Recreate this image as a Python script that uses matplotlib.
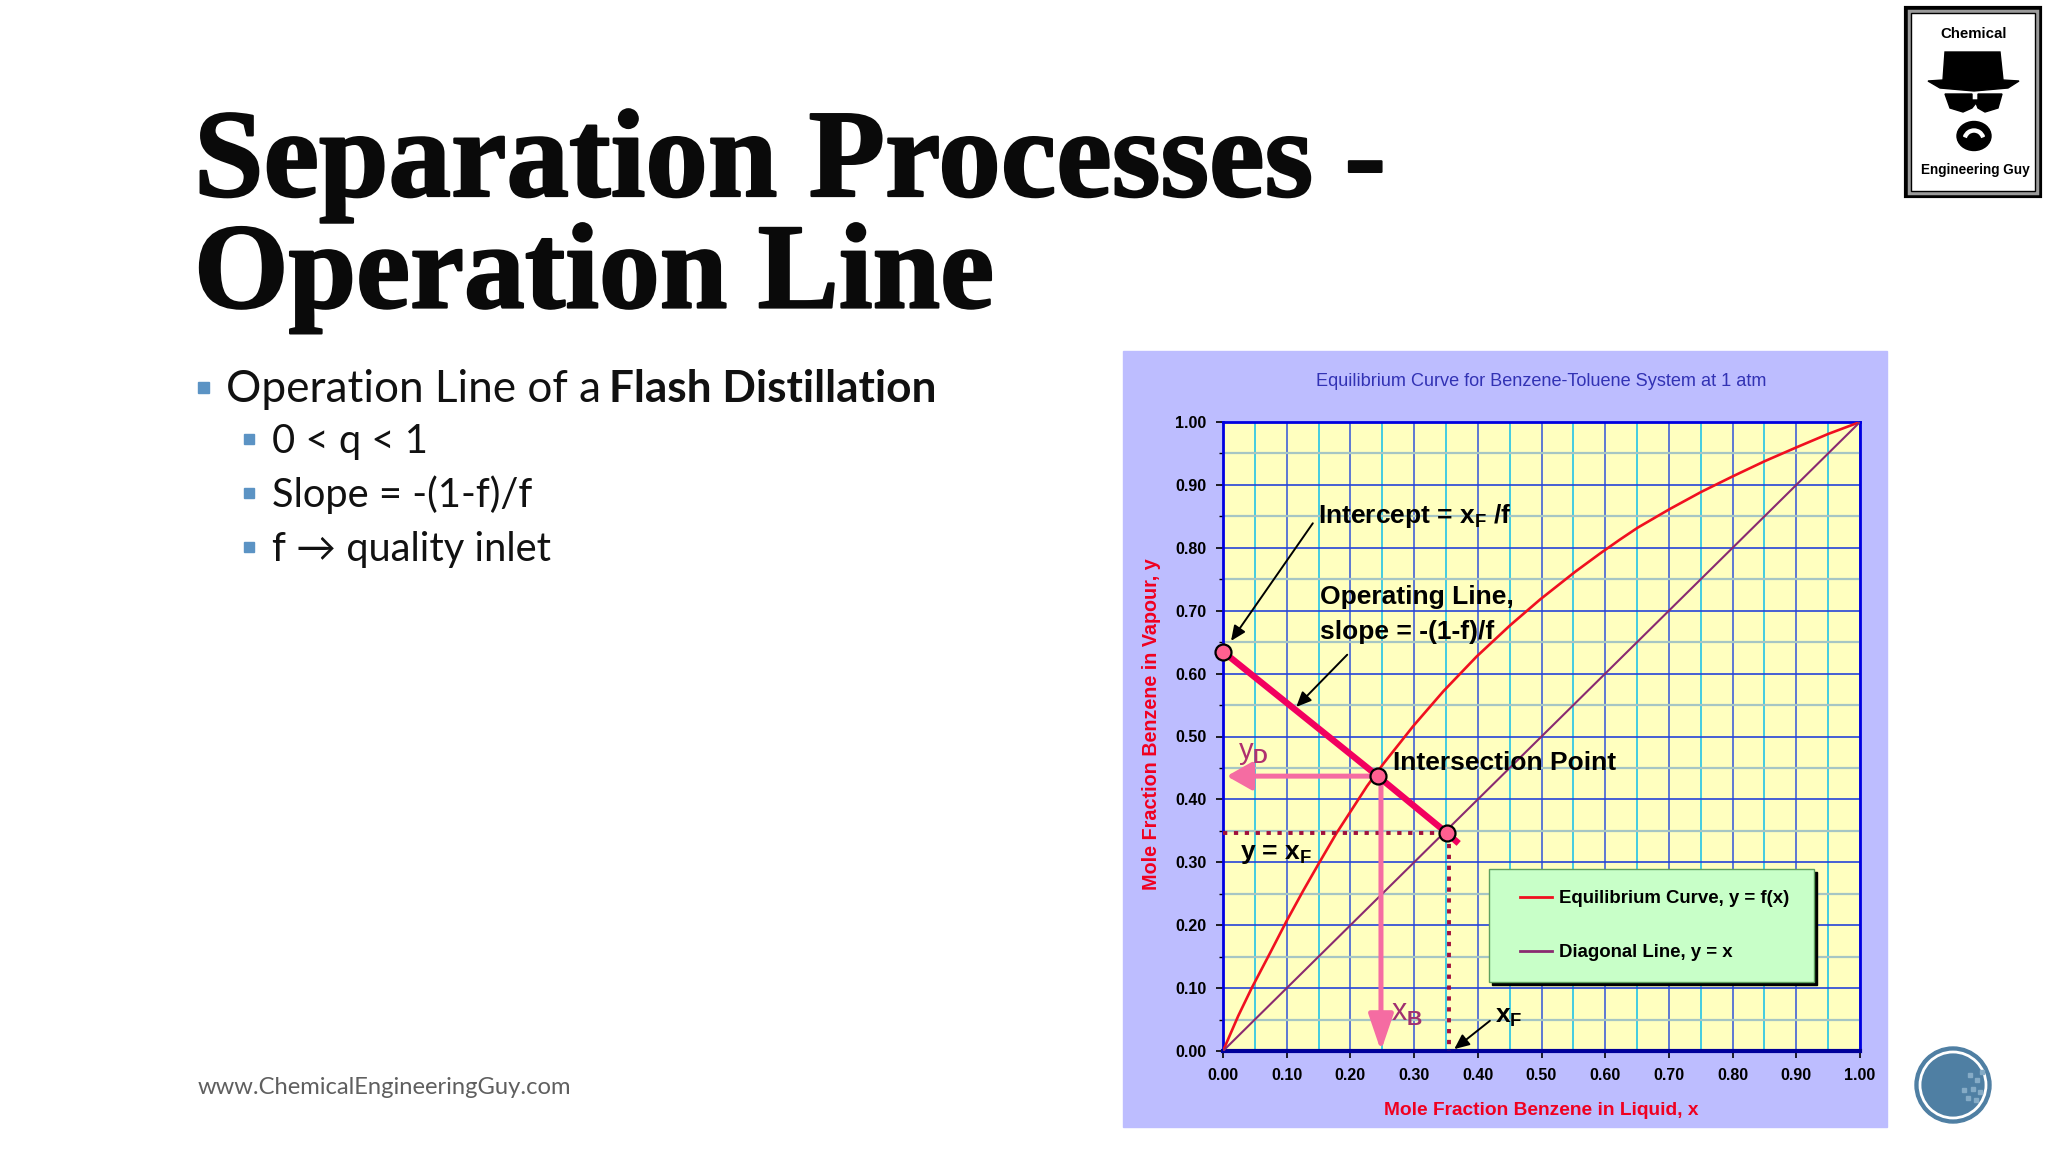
"""
plot.py - slide with the benzene-toluene equilibrium chart, saved to out.png
"""
import matplotlib
matplotlib.use("Agg")
import matplotlib.pyplot as plt
import matplotlib.patheffects as pe
from matplotlib.legend_handler import HandlerLine2D
from matplotlib.lines import Line2D
from matplotlib.patches import Rectangle, Circle, Polygon, Ellipse, Wedge

plt.rcParams["font.family"] = ["Liberation Sans", "DejaVu Sans"]
plt.rcParams["mathtext.fontset"] = "custom"
plt.rcParams["mathtext.rm"] = "Liberation Sans:bold"
plt.rcParams["mathtext.default"] = "rm"

W, H = 2048, 1152

# chart data
eq_x = [0.00, 0.024, 0.045, 0.074, 0.100, 0.126, 0.152, 0.178, 0.226, 0.252, 0.299, 0.346, 0.398,
        0.451, 0.498, 0.553, 0.592, 0.623, 0.651, 0.702, 0.751, 0.801, 0.851, 0.901, 0.950, 1.00]
eq_y = [0.00, 0.056, 0.100, 0.156, 0.207, 0.255, 0.301, 0.346, 0.421, 0.457, 0.517, 0.572, 0.627,
        0.677, 0.718, 0.762, 0.791, 0.813, 0.832, 0.862, 0.889, 0.914, 0.938, 0.960, 0.981, 1.00]
diag_x = [0.0, 1.0]
diag_y = [0.0, 1.0]
op_x = [0.00, 0.243, 0.351, 0.37]
op_y = [0.635, 0.437, 0.347, 0.33]
marker_x = [0.00, 0.243, 0.351]
marker_y = [0.635, 0.437, 0.347]
x_feed = 0.355
y_feed = 0.347
x_bottom = 0.248
major_ticks = [0.0, 0.1, 0.2, 0.3, 0.4, 0.5, 0.6, 0.7, 0.8, 0.9, 1.0]
minor_ticks = [0.05, 0.15, 0.25, 0.35, 0.45, 0.55, 0.65, 0.75, 0.85, 0.95]

title_lines = ["Separation Processes -", "Operation Line"]
sub_bullets = ["0 < q < 1", "Slope = -(1-f)/f", "f \u2192 quality inlet"]

BULLET = "#5B93C4"
LATO = ["Lato", "DejaVu Sans"]


def draw_slide(bg):
    # title and bullets
    heavy = [pe.withStroke(linewidth=1.6, foreground="#0A0A0A")]
    for label, yy, size in zip(title_lines, [166, 278], [90, 87.5]):
        bg.text(194, yy, label, family="Liberation Serif", fontweight="bold", fontsize=size,
                va="center", ha="left", color="#0A0A0A", path_effects=heavy)

    bg.add_patch(Rectangle((198, 382), 11, 11, color=BULLET))
    bg.text(226, 389, "Operation Line of a", family=LATO, fontsize=31.8, va="center", color="#111111")
    bg.text(609, 389, "Flash Distillation", family=LATO, fontweight="bold", fontsize=31.8,
            va="center", color="#111111")
    for label, yy in zip(sub_bullets, [441, 495, 549]):
        bg.add_patch(Rectangle((244, yy - 7), 10, 10, color=BULLET))
        bg.text(272, yy, label, family=LATO, fontsize=28.7, va="center", color="#111111")

    bg.text(198, 1088, "www.ChemicalEngineeringGuy.com", family=LATO, fontsize=17.1,
            va="center", color="#5F5F5F")

    # chart panel
    bg.add_patch(Rectangle((1123, 351), 764, 776, color="#BDBDFF", zorder=1))

    # logo top right
    bg.add_patch(Rectangle((1906, 8), 134, 188, fc="white", ec="black", lw=3))
    bg.add_patch(Rectangle((1909, 11), 128, 182, fc="none", ec="#9A9A9A", lw=2.5))
    bg.add_patch(Rectangle((1911, 13), 124, 178, fc="none", ec="black", lw=1))
    bg.text(1974, 34, "Chemical", fontweight="bold", fontsize=10.8,
            ha="center", va="center", color="black")
    bg.text(1975, 170, "Engineering Guy", fontweight="bold", fontsize=9.8,
            ha="center", va="center", color="black")
    bg.add_patch(Polygon([(1945, 52), (2000, 52), (2003, 80), (2019, 81), (2008, 88), (1974, 91),
                          (1940, 88), (1928, 81), (1943, 80)], color="black"))
    bg.add_patch(Polygon([(1945, 94), (1972, 94), (1972, 100), (1978, 100), (1978, 94), (2002, 94),
                          (1998, 108), (1985, 112), (1978, 108), (1976, 103), (1972, 108),
                          (1963, 112), (1950, 108)], color="black"))
    bg.add_patch(Ellipse((1974, 136), 34, 29, color="black"))
    bg.add_patch(Wedge((1974, 140), 11, 200, 340, width=3, color="white"))

    # round badge bottom right
    bg.add_patch(Circle((1953, 1085), 38, color="#4F7FA3"))
    bg.add_patch(Circle((1953, 1085), 33, fc="none", ec="white", lw=2))
    for sx, sy in [(1968, 1073), (1975, 1078), (1971, 1087), (1978, 1090), (1966, 1096),
                   (1974, 1098), (1962, 1088), (1980, 1070)]:
        bg.add_patch(Rectangle((sx, sy), 4, 4, color="#85ABC6"))


def draw_chart(ax):
    ax.set_facecolor("#FFFFBF")
    ax.set_xlim(0, 1)
    ax.set_ylim(0, 1)

    ax.set_xticks(major_ticks)
    ax.set_yticks(major_ticks)
    ax.set_xticks(minor_ticks, minor=True)
    ax.set_yticks(minor_ticks, minor=True)
    ax.set_xticklabels([f"{t:.2f}" for t in major_ticks])
    ax.set_yticklabels([f"{t:.2f}" for t in major_ticks])

    ax.set_axisbelow(True)
    ax.grid(True, which="major", axis="x", color="#3A5AD8", lw=1.15)
    ax.grid(True, which="major", axis="y", color="#2644D8", lw=1.2)
    ax.grid(True, which="minor", axis="x", color="#2CC6E6", lw=1.25)
    ax.grid(True, which="minor", axis="y", color="#A6C6C4", lw=1.6)
    ax.tick_params(which="major", length=5, width=1.2, pad=7, labelsize=11.5, color="black")
    ax.tick_params(which="minor", axis="y", length=3, width=1, color="black")
    ax.tick_params(which="minor", axis="x", length=0)
    for tick in ax.get_xticklabels() + ax.get_yticklabels():
        tick.set_fontweight("bold")
    for side in ["top", "left", "right"]:
        ax.spines[side].set_color("#0000E0")
        ax.spines[side].set_linewidth(2)
    ax.spines["bottom"].set_color("#00009A")
    ax.spines["bottom"].set_linewidth(3)

    ax.set_xlabel("Mole Fraction Benzene in Liquid, x", color="#F00020", fontweight="bold",
                  fontsize=13.8, labelpad=14)
    ax.set_ylabel("Mole Fraction Benzene in Vapour, y", color="#F00020", fontweight="bold",
                  fontsize=14.2, labelpad=10, y=0.52)
    ax.set_title("Equilibrium Curve for Benzene-Toluene System at 1 atm", color="#3232B4",
                 fontsize=13.1, pad=26, x=0.5)

    ax.plot(eq_x, eq_y, color="#F01020", lw=1.9, zorder=3)
    ax.plot(diag_x, diag_y, color="#8A2A70", lw=1.5, zorder=3)

    # feed dotted lines
    ax.plot([0, x_feed], [y_feed, y_feed], color="#A0103C", lw=2.8, ls=(0, (1.1, 1.7)), zorder=4)
    ax.plot([x_feed, x_feed], [y_feed, 0], color="#A0103C", lw=2.8, ls=(0, (1.1, 1.7)), zorder=4)

    # pink arrows for y_D and x_B
    ax.annotate("", xy=(0.006, marker_y[1]), xytext=(marker_x[1], marker_y[1]), zorder=4,
                arrowprops=dict(arrowstyle="-|>,head_length=1.5,head_width=0.85", lw=3.6,
                                color="#F56CA2", shrinkA=0, shrinkB=0))
    ax.annotate("", xy=(x_bottom, 0.0), xytext=(x_bottom, marker_y[1]), zorder=4,
                arrowprops=dict(arrowstyle="-|>,head_length=2.2,head_width=0.75", lw=3.6,
                                color="#F56CA2", shrinkA=0, shrinkB=0))

    ax.plot(op_x, op_y, color="#F2005F", lw=4.6, zorder=5, solid_capstyle="butt")
    ax.plot(marker_x, marker_y, ls="none", marker="o", ms=11.5, mfc="#FF6090", mec="black",
            mew=1.6, zorder=6, clip_on=False)

    # black pointer arrows
    pointer = dict(arrowstyle="-|>,head_length=0.9,head_width=0.4", lw=1.4, color="black",
                   shrinkA=0, shrinkB=0)
    ax.annotate("", xy=(0.0126, 0.652), xytext=(0.141, 0.839), arrowprops=pointer, zorder=7)
    ax.annotate("", xy=(0.115, 0.547), xytext=(0.195, 0.63), arrowprops=pointer, zorder=7)
    ax.annotate("", xy=(0.363, 0.003), xytext=(0.419, 0.048), arrowprops=pointer, zorder=7)

    # labels
    bold = dict(fontweight="bold", color="black", va="center", ha="left", zorder=8, fontsize=19)
    ax.text(0.149, 0.851, r"Intercept = x$_{\mathrm{F}}$ /f", **bold)
    ax.text(0.152, 0.722, "Operating Line,", **bold)
    ax.text(0.152, 0.666, "slope = -(1-f)/f", **bold)
    ax.text(0.267, 0.458, "Intersection Point", **bold)
    ax.text(0.027, 0.313, r"y = x$_{\mathrm{F}}$", **bold)
    ax.text(0.427, 0.054, r"x$_{\mathrm{F}}$", **bold)
    ax.text(0.024, 0.474, r"y$_{\mathrm{D}}$", color="#B0306F", fontsize=21, va="center", zorder=8)
    ax.text(0.263, 0.06, r"x$_{\mathrm{B}}$", color="#A03070", fontsize=22, va="center", zorder=8)

    # legend, box size set by the anchor and spacing
    handles = [Line2D([], [], color="#F01020", lw=2), Line2D([], [], color="#8A2A70", lw=2)]
    leg = ax.legend(handles, ["Equilibrium Curve, y = f(x)", "Diagonal Line, y = x"],
                    loc="lower left", bbox_to_anchor=(0.418, 0.109, 0.51, 0.176), mode="expand",
                    borderaxespad=0, fontsize=13.4, labelspacing=1.98, borderpad=1.15,
                    handlelength=2.2, handletextpad=0.4, fancybox=False, framealpha=1,
                    facecolor="#C8FFC8", edgecolor="#5FA05F",
                    handler_map={Line2D: HandlerLine2D(xpad=0.5)},
                    shadow=dict(color="black", alpha=1, ox=2, oy=-2))
    leg.set_zorder(7)
    for t in leg.get_texts():
        t.set_fontweight("bold")


def main():
    fig = plt.figure(figsize=(W / 100, H / 100), dpi=100, facecolor="white")

    bg = fig.add_axes([0, 0, 1, 1], zorder=0)
    bg.set_xlim(0, W)
    bg.set_ylim(H, 0)
    bg.axis("off")
    draw_slide(bg)

    left, right, top, bottom = 1223, 1860, 422, 1051
    ax = fig.add_axes([left / W, 1 - bottom / H, (right - left) / W, (bottom - top) / H], zorder=2)
    draw_chart(ax)

    fig.savefig("out.png", dpi=100)
    plt.close(fig)


if __name__ == "__main__":
    main()
